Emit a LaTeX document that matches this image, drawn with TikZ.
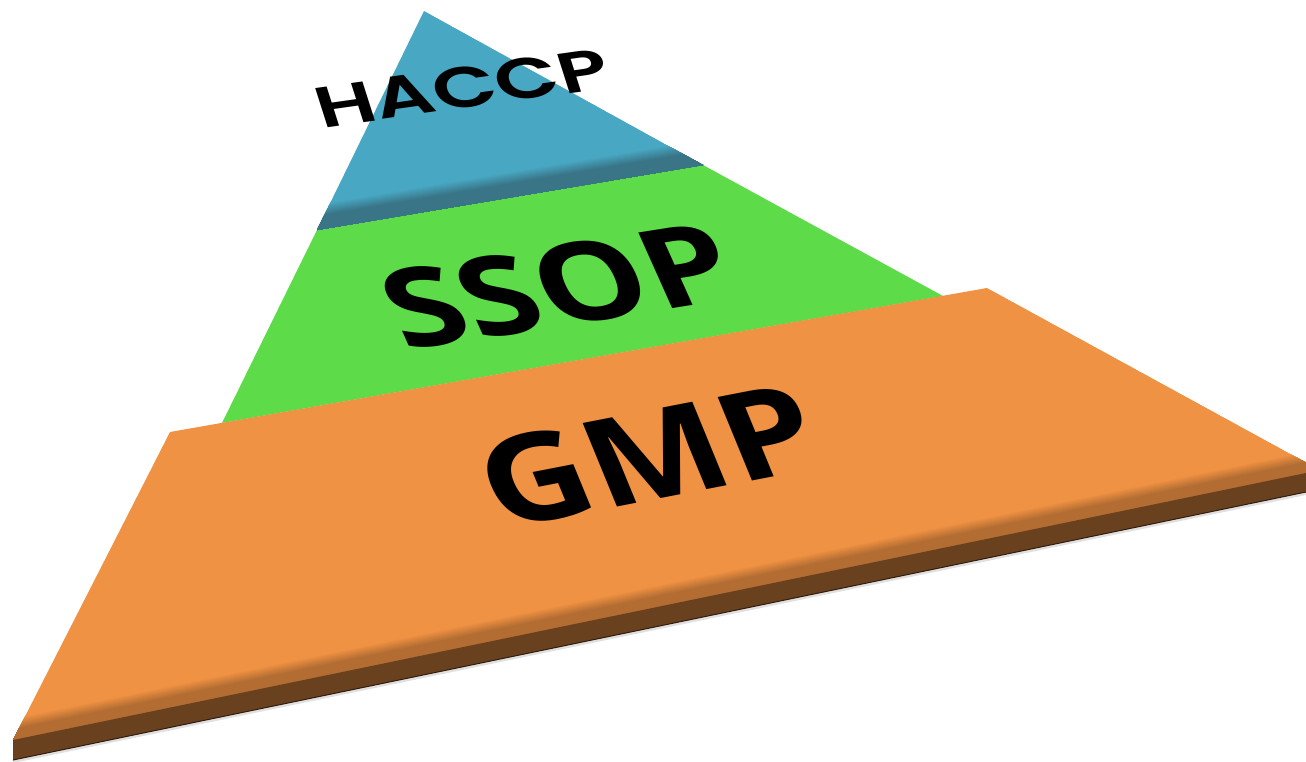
\documentclass[tikz,border=0pt]{standalone}
\usepackage{fontspec}
\setmainfont{Open Sans}
\IfFontExistsTF{Open Sans SemiBold}
  {\newfontfamily\lblfont{Open Sans SemiBold}}
  {\newfontfamily\lblfontbase{Open Sans}\newcommand\lblfont{\lblfontbase\bfseries}}
\IfFontExistsTF{Poppins SemiBold}
  {\newfontfamily\topfont{Poppins SemiBold}}
  {\newfontfamily\topfontbase{Poppins}\newcommand\topfont{\topfontbase\bfseries}}
\usetikzlibrary{calc}
\definecolor{tblue}{HTML}{48A8C3}
\definecolor{tbluedark}{HTML}{3A7487}
\definecolor{tgreen}{HTML}{5EDB48}
\definecolor{torange}{HTML}{F09243}
\definecolor{tbevel}{HTML}{B36D33}
\definecolor{tbrown}{HTML}{6A411E}
\tikzset{
  label text/.style={inner sep=0pt, text=black},
}
\begin{document}
\begin{tikzpicture}[x=1pt,y=-1pt]
\useasboundingbox (0,0) rectangle (1306,761);
% key points
\coordinate (apex) at (424,11);
\coordinate (bl) at (317,230);
\coordinate (br) at (703,165);
\coordinate (gl) at (222,423);
\coordinate (gr) at (943,296);
\coordinate (otl) at (170,432);
\coordinate (otr) at (987,288);
\coordinate (orr) at (1306,462.5);
\coordinate (obr) at (1306,473);
\coordinate (obl) at (13,740);
\coordinate (fbr) at (1306,492);
\coordinate (fbl) at (13,760);

% green layer
\fill[tgreen] (bl) -- (br) -- (gr) -- (gl) -- cycle;

% blue layer with dark bottom band
\begin{scope}
  \clip (apex) -- (br) -- (bl) -- cycle;
  \fill[tblue] (apex) -- (br) -- (bl) -- cycle;
  \foreach \d in {26,25,...,0} {
    \pgfmathtruncatemacro\p{min(100,max(0,(26-\d)*100/12))}
    \fill[tbluedark!\p!tblue] (280,236.2-\d) -- (740,158.8-\d) -- (740,262) -- (280,262) -- cycle;
  }
\end{scope}

% orange layer: top face with bevel
\begin{scope}
  \clip (otl) -- (otr) -- (orr) -- (obr) -- (obl) -- cycle;
  \fill[torange] (otl) -- (otr) -- (orr) -- (obr) -- (obl) -- cycle;
  \foreach \d in {22,21,...,0} {
    \pgfmathtruncatemacro\p{min(100,max(0,(22-\d)*100/11))}
    \fill[tbevel!\p!torange] (0,742.7-\d) -- (1306,473-\d) -- (1306,520) -- (0,790) -- cycle;
  }
\end{scope}
% soft shadow below the slab
\draw[black!12, line width=3pt] ($(fbl)+(0,1.5)$) -- ($(fbr)+(0,1.5)$);
% front face
\fill[tbrown] (obl) -- (obr) -- (fbr) -- (fbl) -- cycle;
\draw[black!55!tbrown, line width=1pt] (fbl) -- (fbr);

% labels
\node[label text, font=\topfont\fontsize{58}{58}\selectfont,
      rotate=8, xslant=-0.17, xscale=1.42] (haccp) at (462,88) {HACCP};
\node[label text, font=\lblfont\fontsize{112}{112}\selectfont,
      rotate=9, xslant=-0.27, xscale=1.22] (ssop) at (558,286) {SSOP};
\node[label text, font=\lblfont\fontsize{124}{124}\selectfont,
      rotate=11, xslant=-0.2, xscale=1.18] (gmp) at (648,456) {GMP};
\end{tikzpicture}
\end{document}
